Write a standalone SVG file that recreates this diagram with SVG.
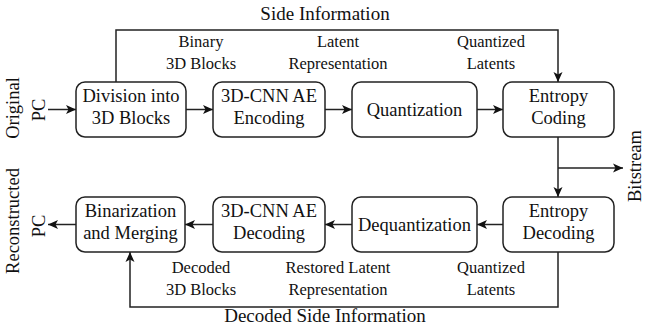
<svg xmlns="http://www.w3.org/2000/svg" width="646" height="333" viewBox="0 0 646 333">
<defs>
<marker id="ah" viewBox="0 0 10 10" refX="10" refY="5" markerWidth="10" markerHeight="10" markerUnits="userSpaceOnUse" orient="auto">
<path d="M0,0.5 L10,5 L0,9.5 L2.5,5 Z" fill="#111"/>
</marker>
<style>
.box{fill:#fff;stroke:#222;stroke-width:1.5}
.bt{font-family:"Liberation Serif","Times New Roman",serif;font-size:18.5px;fill:#111;text-anchor:middle}
.lb{font-family:"Liberation Serif","Times New Roman",serif;font-size:16.5px;fill:#111;text-anchor:middle}
.big{font-family:"Liberation Serif","Times New Roman",serif;font-size:19px;fill:#111;text-anchor:middle}
.cn{fill:none;stroke:#222;stroke-width:1.5}
</style>
</defs>
<rect width="646" height="333" fill="#fff"/>
<g id="connectors">
<path class="cn" d="M48,109.5 H76" marker-end="url(#ah)"/>
<path class="cn" d="M186,109.5 H213" marker-end="url(#ah)"/>
<path class="cn" d="M325,109.5 H352" marker-end="url(#ah)"/>
<path class="cn" d="M477,109.5 H503" marker-end="url(#ah)"/>
<path class="cn" d="M116,82 V30 H558 V82" marker-end="url(#ah)"/>
<path class="cn" d="M558,137 V197" marker-end="url(#ah)"/>
<path class="cn" d="M558,168 H623" marker-end="url(#ah)"/>
<path class="cn" d="M503,224.5 H477" marker-end="url(#ah)"/>
<path class="cn" d="M352,224.5 H325" marker-end="url(#ah)"/>
<path class="cn" d="M213,224.5 H185" marker-end="url(#ah)"/>
<path class="cn" d="M76,224.5 H48" marker-end="url(#ah)"/>
<path class="cn" d="M558,252 V307 H130 V252" marker-end="url(#ah)"/>
<text class="big" x="325" y="20">Side Information</text>
<text class="big" x="325" y="322">Decoded Side Information</text>
<text class="lb" x="201" y="47">Binary</text>
<text class="lb" x="201" y="69">3D Blocks</text>
<text class="lb" x="338" y="47">Latent</text>
<text class="lb" x="338" y="69">Representation</text>
<text class="lb" x="491" y="47">Quantized</text>
<text class="lb" x="491" y="69">Latents</text>
<text class="lb" x="201" y="273">Decoded</text>
<text class="lb" x="201" y="295">3D Blocks</text>
<text class="lb" x="338" y="273">Restored Latent</text>
<text class="lb" x="338" y="295">Representation</text>
<text class="lb" x="491" y="273">Quantized</text>
<text class="lb" x="491" y="295">Latents</text>
<text class="bt" transform="translate(19,108) rotate(-90)">Original</text>
<text class="bt" transform="translate(45,110) rotate(-90)">PC</text>
<text class="bt" transform="translate(19,221) rotate(-90)">Reconstructed</text>
<text class="bt" transform="translate(45,226) rotate(-90)">PC</text>
<text class="bt" transform="translate(641,166) rotate(-90)">Bitstream</text>
</g>
<g id="division">
<rect class="box" x="76" y="82" width="110" height="55" rx="9"/>
<text class="bt" x="131" y="102">Division into</text>
<text class="bt" x="131" y="124">3D Blocks</text>
</g>
<g id="encoding">
<rect class="box" x="213" y="82" width="112" height="55" rx="9"/>
<text class="bt" x="269" y="102">3D-CNN AE</text>
<text class="bt" x="269" y="124">Encoding</text>
</g>
<g id="quantization">
<rect class="box" x="352" y="82" width="125" height="55" rx="9"/>
<text class="bt" x="414.5" y="116">Quantization</text>
</g>
<g id="entropy-coding">
<rect class="box" x="503" y="82" width="111" height="55" rx="9"/>
<text class="bt" x="558.5" y="102">Entropy</text>
<text class="bt" x="558.5" y="124">Coding</text>
</g>
<g id="entropy-decoding">
<rect class="box" x="503" y="197" width="111" height="55" rx="9"/>
<text class="bt" x="558.5" y="217">Entropy</text>
<text class="bt" x="558.5" y="239">Decoding</text>
</g>
<g id="dequantization">
<rect class="box" x="352" y="197" width="125" height="55" rx="9"/>
<text class="bt" x="414.5" y="231">Dequantization</text>
</g>
<g id="decoding">
<rect class="box" x="213" y="197" width="112" height="55" rx="9"/>
<text class="bt" x="269" y="217">3D-CNN AE</text>
<text class="bt" x="269" y="239">Decoding</text>
</g>
<g id="binarization">
<rect class="box" x="76" y="197" width="109" height="55" rx="9"/>
<text class="bt" x="130.5" y="217">Binarization</text>
<text class="bt" x="130.5" y="239">and Merging</text>
</g>
</svg>
